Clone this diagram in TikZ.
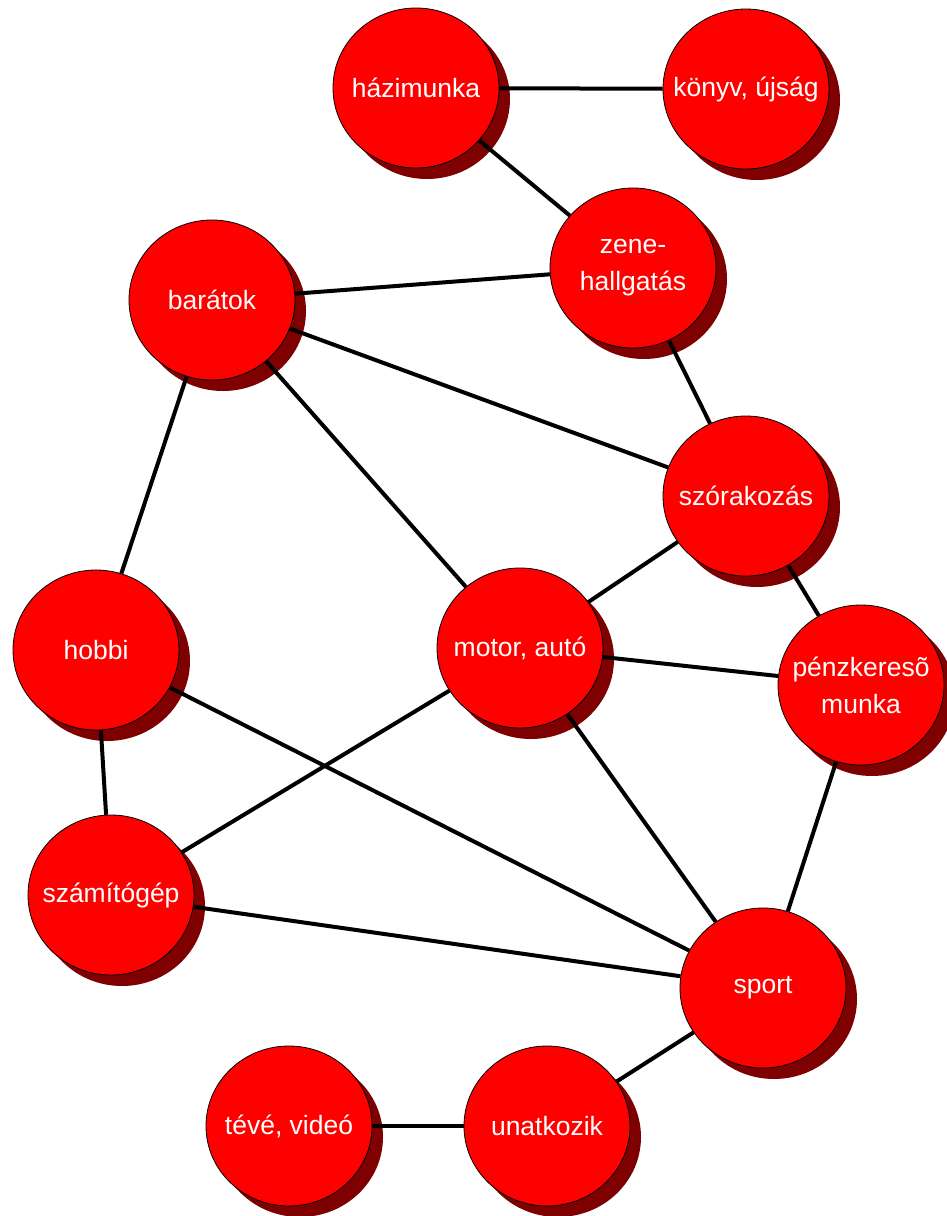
\documentclass[tikz,border=0pt]{standalone}
\usepackage{fontspec}
\setmainfont{Liberation Sans}
\usetikzlibrary{shapes.geometric, shadows}
\definecolor{bubblered}{RGB}{255,0,0}
\definecolor{shadowred}{RGB}{127,0,0}

\tikzset{
    bubble/.style={ellipse, draw=black, line width=0.8pt, fill=bubblered,
        minimum width=166pt, minimum height=160pt, inner sep=0pt,
        drop shadow={shadow xshift=11pt, shadow yshift=-11pt, fill=shadowred, opacity=1}},
    word/.style={text=white, font=\fontsize{26.5}{37}\selectfont, align=center, inner sep=0pt},
    link/.style={line width=4pt}
}

\begin{document}
\begin{tikzpicture}[x=1pt, y=-1pt]
        \useasboundingbox (0,0) rectangle (947,1216);
        % bubbles
        \node[bubble, label={[word]center:házimunka}] (hazi) at (416,88) {};
        \node[bubble, label={[word]center:{könyv, újság}}] (konyv) at (746,89) {};
        \node[bubble, label={[word]center:{zene-\\hallgatás}}] (zene) at (633,268) {};
        \node[bubble, label={[word]center:barátok}] (baratok) at (212,300) {};
        \node[bubble, label={[word]center:szórakozás}] (szorakozas) at (746,496) {};
        \node[bubble, label={[word]center:{pénzkeresõ\\munka}}] (penz) at (861,685) {};
        \node[bubble, label={[word]center:hobbi}] (hobbi) at (96,650) {};
        \node[bubble, label={[word]center:{motor, autó}}] (motor) at (520,648) {};
        \node[bubble, label={[word]center:számítógép}] (gep) at (111,895) {};
        \node[bubble, label={[word]center:sport}] (sport) at (763,988) {};
        \node[bubble, label={[word]center:{tévé, videó}}] (teve) at (289,1126) {};
        \node[bubble, label={[word]center:unatkozik}] (unat) at (547,1126) {};
        % links
        \draw[link] (hazi) -- (konyv);
        \draw[link] (hazi) -- (zene);
        \draw[link] (baratok) -- (zene);
        \draw[link] (baratok) -- (szorakozas);
        \draw[link] (baratok) -- (motor);
        \draw[link] (baratok) -- (hobbi);
        \draw[link] (zene) -- (szorakozas);
        \draw[link] (szorakozas) -- (motor);
        \draw[link] (szorakozas) -- (penz);
        \draw[link] (motor) -- (penz);
        \draw[link] (motor) -- (gep);
        \draw[link] (motor) -- (sport);
        \draw[link] (hobbi) -- (gep);
        \draw[link] (hobbi) -- (sport);
        \draw[link] (gep) -- (sport);
        \draw[link] (penz) -- (sport);
        \draw[link] (sport) -- (unat);
        \draw[link] (unat) -- (teve);
\end{tikzpicture}
\end{document}
